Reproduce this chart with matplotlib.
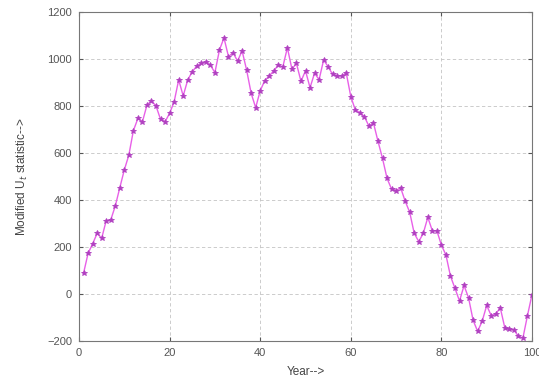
import matplotlib
matplotlib.use("Agg")
import matplotlib.pyplot as plt

# Jahre 1..100 und modifizierte U_t-Statistik
years = list(range(1, 101))
u_stat = [88, 173, 213, 258, 237, 312, 315, 374, 452, 528,
          591, 695, 747, 733, 804, 822, 800, 743, 733, 769,
          818, 911, 843, 911, 946, 970, 981, 986, 974, 942,
          1038, 1090, 1010, 1027, 991, 1035, 953, 854, 793, 865,
          908, 928, 950, 974, 967, 1048, 957, 981, 905, 950,
          878, 940, 912, 996, 967, 934, 928, 928, 940, 840,
          783, 772, 755, 714, 728, 650, 577, 492, 446, 440,
          452, 395, 348, 258, 223, 258, 326, 269, 269, 208,
          166, 76, 24, -30, 36, -17, -112, -159, -116, -49,
          -92, -85, -59, -144, -151, -153, -180, -187, -92, -3]

x_ticks = [0, 20, 40, 60, 80, 100]
y_ticks = [-200, 0, 200, 400, 600, 800, 1000, 1200]

plt.rcParams['font.family'] = ['Liberation Sans', 'DejaVu Sans']

fig = plt.figure(figsize=(5.39, 3.87), dpi=100)
ax = fig.add_axes([0.1466, 0.119, 0.8404, 0.85])

ax.plot(years, u_stat, color='#e860e8', linewidth=1.0, marker='*',
        markersize=4, markeredgecolor='#b040c0', markerfacecolor='#b040c0',
        markeredgewidth=0.6)

ax.set_xlim(0, 100)
ax.set_ylim(-200, 1200)
ax.set_xticks(x_ticks)
ax.set_yticks(y_ticks)
ax.grid(True, linestyle=(0, (4, 3)), color='#c4c4c4', linewidth=0.6)
ax.tick_params(direction='in', top=True, right=True, labelsize=8,
               colors='#555555', length=3, pad=5)
for s in ax.spines.values():
    s.set_color('#777777')

ax.set_xlabel('Year-->', fontsize=8.5, color='#444444', labelpad=6)
ax.set_ylabel('Modified U$_t$ statistic-->', fontsize=8.5, color='#444444', labelpad=12)

fig.savefig('out.png', dpi=100)
